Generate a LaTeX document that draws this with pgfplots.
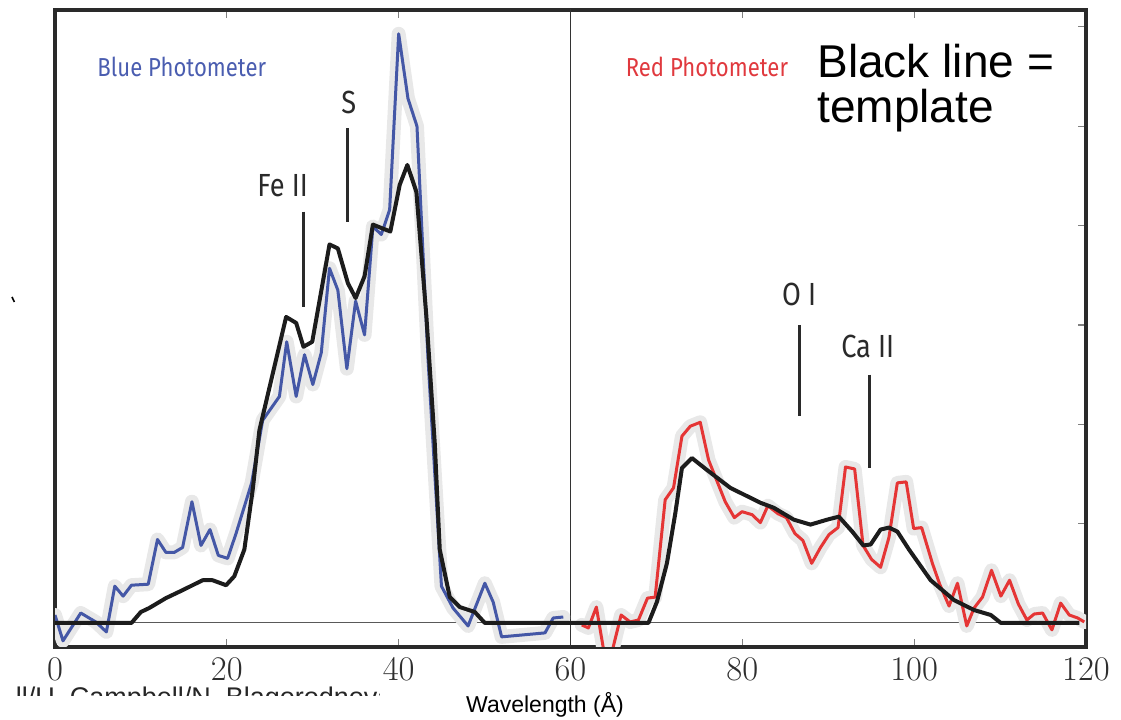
\documentclass[border=0pt]{standalone}
\usepackage{pgfplots}
\pgfplotsset{compat=1.18}
\usepackage{fontspec}
\newfontfamily\arial{Liberation Sans}
\newfontfamily\din[FakeStretch=0.85]{Fira Sans}
\definecolor{bluel}{HTML}{4457A6}
\definecolor{redl}{HTML}{E53535}
\definecolor{blackl}{HTML}{1C1C1C}
\definecolor{band}{HTML}{E8E8E8}
\definecolor{framecol}{HTML}{2A2A2A}
\definecolor{ticklab}{HTML}{2E2E2E}
\definecolor{bluetxt}{HTML}{4A5DB0}
\definecolor{redtxt}{HTML}{E0393E}
\begin{document}
\begin{tikzpicture}
\begin{axis}[
  scale only axis, width=515.5pt, height=318.5pt,
  xmin=0, xmax=120, ymin=-0.242, ymax=6.17,
  xtick={0,20,...,120}, ytick={0,...,6}, yticklabels={}, ytick pos=right,
  tick align=inside, major tick length=4pt,
  tick style={line width=0.6pt, color=gray},
  axis line style={line width=2pt, color=framecol},
  ticklabel style={font=\fontsize{19}{19}\selectfont, text=ticklab},
  xticklabel style={yshift=-2pt},
  clip mode=individual,
]
\coordinate (BL) at (rel axis cs:0,0);
\coordinate (TR) at (rel axis cs:1,1);
% reference lines
\addplot[gray!70!black, line width=0.5pt] coordinates {(0,0) (120,0)};
\addplot[gray!40!black, line width=0.75pt] coordinates {(60,-0.3) (60,6.3)};
% blue photometer
\def\bluedata{(0,0.08) (0.93,-0.18) (3.0,0.10) (4.75,0.01) (5.98,-0.09) (6.96,0.37) (7.93,0.27) (8.90,0.38) (10.85,0.39) (11.93,0.84) (12.91,0.71) (13.88,0.71) (14.85,0.76) (15.94,1.22) (16.99,0.78) (18.04,0.94) (19.01,0.68) (20.09,0.65) (21.07,0.90) (22.89,1.41) (24.17,2.04) (26.12,2.28) (26.97,2.83) (28.07,2.28) (29.04,2.70) (30.01,2.40) (30.99,2.72) (31.95,3.57) (32.92,3.35) (33.97,2.56) (34.99,3.24) (36.03,2.90) (37.00,3.99) (37.98,3.91) (38.95,4.16) (40.0,5.93) (41.08,5.28) (42.13,5.00) (43.42,2.65) (44.98,0.37) (46.33,0.15) (48.08,-0.03) (50.03,0.40) (51.0,0.21) (51.98,-0.14) (57.03,-0.10) (57.99,0.05) (59.16,0.06)}
\def\reddata{(61.31,-0.02) (62.08,-0.05) (63.01,0.16) (63.91,-0.30) (64.80,-0.30) (65.89,0.08) (66.94,0.01) (67.91,0.03) (68.96,0.25) (69.85,0.26) (71.02,1.24) (71.99,1.36) (72.97,1.88) (73.94,1.98) (75.10,2.02) (76.07,1.64) (78.01,1.22) (79.07,1.06) (79.96,1.12) (81.13,1.09) (82.10,1.01) (82.97,1.18) (84.14,1.10) (85.13,1.06) (86.12,0.90) (87.05,0.83) (88.07,0.60) (89.10,0.76) (90.09,0.89) (91.14,0.96) (92.01,1.57) (93.07,1.55) (94.05,0.78) (95.04,0.64) (96.09,0.56) (97.06,0.86) (98.04,1.41) (99.07,1.42) (99.94,0.95) (100.87,0.96) (102.12,0.60) (102.97,0.39) (104.06,0.17) (105.04,0.40) (106.12,-0.03) (106.97,0.15) (107.95,0.26) (109.0,0.53) (110.09,0.27) (111.10,0.43) (112.13,0.19) (113.12,0.03) (113.97,0.09) (114.95,0.10) (116.03,-0.07) (117.05,0.20) (118.05,0.08) (119.03,0.05) (119.80,0.01)}
\addplot[band, line width=7pt, line join=round, line cap=round] coordinates \bluedata;
\addplot[band, line width=7pt, line join=round, line cap=round] coordinates \reddata;
\addplot[bluel, line width=1.5pt, line join=round] coordinates \bluedata;
\addplot[redl, line width=1.5pt, line join=round] coordinates \reddata;
% template
\addplot[blackl, line width=2pt, line join=round] coordinates {(0,0) (8.90,0) (9.99,0.11) (10.96,0.15) (12.91,0.25) (14.85,0.33) (17.18,0.43) (18.34,0.43) (19.91,0.38) (20.87,0.47) (22.04,0.74) (23.01,1.34) (23.79,1.94) (26.90,3.08) (28.07,3.02) (28.92,2.78) (29.94,2.83) (31.95,3.81) (32.92,3.77) (34.09,3.42) (34.99,3.27) (36.03,3.49) (37.00,4.01) (39.03,3.94) (40.12,4.41) (41.01,4.61) (42.06,4.34) (43.23,3.08) (44.20,1.81) (44.78,0.74) (45.95,0.26) (47.11,0.16) (48.86,0.11) (50.03,0) (69.07,0) (70.05,0.21) (71.22,0.60) (72.19,1.10) (72.97,1.56) (74.13,1.66) (75.88,1.54) (78.6,1.36) (82.10,1.21) (83.65,1.16) (85.98,1.04) (87.93,0.99) (89.88,1.04) (91.23,1.07) (92.79,0.92) (94.08,0.78) (94.93,0.79) (96.09,0.94) (97.06,0.96) (98.04,0.92) (99.39,0.74) (101.92,0.43) (104.64,0.23) (106.97,0.13) (108.92,0.08) (110.09,0) (119.22,0)};
% annotation lines
\addplot[framecol, line width=1.5pt] coordinates {(28.9,4.14) (28.9,3.18)};
\addplot[framecol, line width=1.5pt] coordinates {(34.1,4.98) (34.1,4.04)};
\addplot[framecol, line width=1.5pt] coordinates {(86.7,3.0) (86.7,2.08)};
\addplot[framecol, line width=1.5pt] coordinates {(94.85,2.50) (94.85,1.56)};
% texts
\node[anchor=base west, inner sep=0, text=bluetxt, font=\din\fontsize{13}{13}\selectfont] at (axis cs:4.9,5.5) {Blue Photometer};
\node[anchor=base west, inner sep=0, text=redtxt, font=\din\fontsize{13}{13}\selectfont] at (axis cs:66.4,5.5) {Red Photometer};
\node[anchor=base, inner sep=0, text=framecol, font=\din\fontsize{16}{16}\selectfont] at (axis cs:26.5,4.29) {Fe II};
\node[anchor=base, inner sep=0, text=framecol, font=\din\fontsize{16}{16}\selectfont] at (axis cs:34.2,5.13) {S};
\node[anchor=base, inner sep=0, text=framecol, font=\din\fontsize{16}{16}\selectfont] at (axis cs:86.6,3.20) {O I};
\node[anchor=base, inner sep=0, text=framecol, font=\din\fontsize{16}{16}\selectfont] at (axis cs:94.6,2.67) {Ca II};
\node[anchor=base west, inner sep=0, align=left, font=\arial\fontsize{23}{22.5}\selectfont] at (axis cs:88.7,5.035) {Black line =\\template};
\end{axis}
\node[anchor=base, inner sep=0, font=\arial\fontsize{11.5}{11.5}\selectfont] at ([shift={(245pt,-33pt)}]BL) {Wavelength (Å)};
\begin{scope}
\clip ([shift={(-27.5pt,-20pt)}]BL) rectangle ([shift={(162pt,-24.5pt)}]BL);
\node[anchor=base west, inner sep=0, font=\arial\fontsize{13.5}{13.5}\selectfont, text=black!85] at ([shift={(-19.75pt,-30pt)}]BL) {ll/U. Campbell/N. Blagorodnova};
\end{scope}
\draw[black, line width=0.8pt] ([shift={(-21.5pt,175pt)}]BL) -- ([shift={(-20.3pt,172.5pt)}]BL);
\pgfresetboundingbox
\path ([shift={(-27.5pt,-36.5pt)}]BL) rectangle ([shift={(17.5pt,5pt)}]TR);
\end{tikzpicture}
\end{document}
